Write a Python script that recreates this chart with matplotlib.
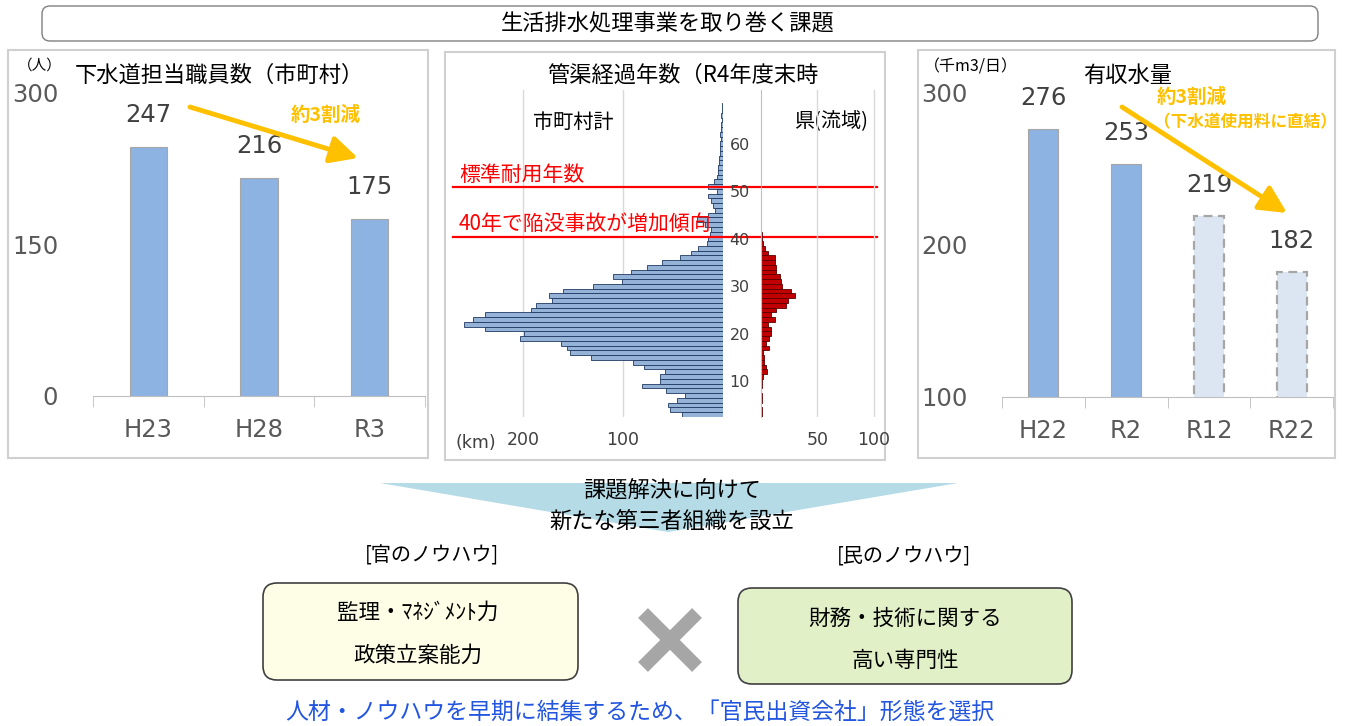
import matplotlib
matplotlib.use("Agg")
import matplotlib.pyplot as plt
import matplotlib.patches as mpatches
import matplotlib.transforms as mtransforms
import numpy as np

plt.rcParams['font.family'] = ['DejaVu Sans', 'Noto Sans CJK JP']
JP = ['Noto Sans CJK JP', 'DejaVu Sans']

W, H = 1345, 726

# ---- data ----
staff_years = ['H23', 'H28', 'R3']
staff_counts = [247, 216, 175]

water_years = ['H22', 'R2', 'R12', 'R22']
water_volume = [276, 253, 219, 182]
water_forecast = [False, False, True, True]

pipe_ages = list(range(3, 69))
pipe_muni_km = [41, 53, 55, 46, 38, 57, 81, 63, 63, 58,
                79, 90, 132, 153, 156, 162, 203, 199, 238, 259,
                250, 238, 192, 187, 171, 174, 160, 130, 101, 110,
                92, 76, 61, 43, 32, 25, 16, 15, 13, 12,
                18, 26, 15, 8, 10, 12, 15, 6, 15, 9,
                6, 5, 5, 4, 4, 3, 3, 3, 2, 3,
                2, 2, 1, 2, 1, 1]
pipe_pref_km = [0.8, 0.8, 0, 0.8, 0.8, 0, 0.8, 0.8, 1.5, 5,
                4, 3, 3, 2, 7, 4, 7, 9, 9, 6,
                12, 9, 13, 22, 24, 30, 27, 19, 18, 17,
                13, 13, 12, 12, 6, 3.5, 2, 1, 1, 0,
                0, 0, 0, 0, 0, 0, 0, 0, 0, 0,
                0, 0, 0, 0, 0, 0, 0, 0, 0, 0,
                0, 0, 0, 0, 0, 0]

BAR = '#8db3e2'
GOLD = '#FFC000'
TICK = '#595959'

fig = plt.figure(figsize=(W / 100, H / 100), dpi=100)


def px_axes(l, t, r, b, z=2):
    ax = fig.add_axes([l / W, 1 - b / H, (r - l) / W, (b - t) / H])
    ax.set_facecolor('none')
    ax.set_zorder(z)
    return ax


# background layer in pixel coordinates
bg = px_axes(0, 0, W, H, z=0)
bg.set_xlim(0, W)
bg.set_ylim(H, 0)
bg.axis('off')

# front layer for arrows
fg = px_axes(0, 0, W, H, z=10)
fg.set_xlim(0, W)
fg.set_ylim(H, 0)
fg.axis('off')

# title box
bg.add_patch(mpatches.FancyBboxPatch((42, 6), 1276, 35, boxstyle='round,pad=0,rounding_size=8',
                                     fc='white', ec='#808080', lw=1))
bg.text(668, 24, '生活排水処理事業を取り巻く課題', ha='center', va='center', fontsize=16, family=JP)

# panel frames
for x0, y0, w, h in [(8, 50, 420, 408), (445, 52, 440, 408), (918, 50, 417, 408)]:
    bg.add_patch(mpatches.Rectangle((x0, y0), w, h, fc='white', ec='#d0d0d0', lw=1.5))

arrow_style = dict(arrowstyle='-|>,head_length=1.1,head_width=0.55', color=GOLD,
                   lw=3.5, mutation_scale=15, shrinkA=0, shrinkB=0)

# ---- left: staff ----
axL = px_axes(93, 93, 425, 396)
xs = np.arange(len(staff_years))
axL.bar(xs, staff_counts, width=0.34, color=BAR, edgecolor='#a6a6a6', lw=0.8)
axL.set_xlim(-0.5, 2.5)
axL.set_ylim(0, 300)
for s in ['top', 'right', 'left']:
    axL.spines[s].set_visible(False)
axL.spines['bottom'].set_color('#bfbfbf')
axL.set_xticks(xs, staff_years)
axL.set_xticks([-0.5, 0.5, 1.5, 2.5], minor=True)
axL.tick_params(axis='x', which='major', length=0, pad=16, labelsize=17.5, labelcolor=TICK)
axL.tick_params(axis='x', which='minor', length=8, color='#bfbfbf')
axL.set_yticks([0, 150, 300])
axL.tick_params(axis='y', length=0, pad=25, labelsize=17.5, labelcolor=TICK)
for xi, v in zip(xs, staff_counts):
    axL.annotate(f'{v}', (xi, v), xytext=(0, 23), textcoords='offset points',
                 ha='center', va='center', fontsize=17.5, color='#404040')
bg.text(75, 75, '下水道担当職員数（市町村）', ha='left', va='center', fontsize=16, family=JP)
bg.text(40, 66, '（人）', ha='center', va='center', fontsize=10.5, family=JP)
fg.annotate('', xy=(358, 158), xytext=(190, 107), arrowprops=arrow_style)
fg.text(326, 115, '約3割減', ha='center', va='center', fontsize=14, fontweight='bold',
        color=GOLD, family=JP)

# ---- middle: pipe age histogram ----
ylo, yhi = 2.5, 71.3
axM1 = px_axes(455, 90, 723, 417)
axM1.barh(pipe_ages, pipe_muni_km, height=1.0, color='#95b3d7', edgecolor='#203864', lw=0.6)
axM1.set_xlim(268, 0)
axM1.set_ylim(ylo, yhi)
for s in axM1.spines.values():
    s.set_visible(False)
axM1.set_xticks([200, 100])
axM1.grid(axis='x', color='#d9d9d9', lw=1)
axM1.set_axisbelow(True)
axM1.set_yticks([])
axM1.tick_params(axis='x', length=0, pad=10, labelsize=12.5, labelcolor='#404040')

axM2 = px_axes(761, 90, 885, 417)
pref_edges = ['#5a0000' if v > 0 else 'none' for v in pipe_pref_km]
axM2.barh(pipe_ages, pipe_pref_km, height=1.0, color='#c00000', edgecolor=pref_edges, lw=0.6)
axM2.set_xlim(0, 110)
axM2.set_ylim(ylo, yhi)
for s in ['top', 'right', 'bottom']:
    axM2.spines[s].set_visible(False)
axM2.spines['left'].set_color('#bfbfbf')
axM2.set_xticks([50, 100])
axM2.grid(axis='x', color='#d9d9d9', lw=1)
axM2.set_axisbelow(True)
axM2.tick_params(axis='x', length=0, pad=10, labelsize=12.5, labelcolor='#404040')
axM2.set_yticks([10, 20, 30, 40, 50, 60])
axM2.tick_params(axis='y', length=0, pad=8, labelsize=11.5, labelcolor='#404040')

bg.text(683, 75, '管渠経過年数（R4年度末時', ha='center', va='center', fontsize=16, family=JP)
bg.text(573, 122, '市町村計', ha='center', va='center', fontsize=14.5, family=JP)
bg.text(831, 122, '県(流域)', ha='center', va='center', fontsize=14.5, family=JP)
bg.text(476, 443, '(km)', ha='center', va='center', fontsize=12.5, color='#404040')

blend = mtransforms.blended_transform_factory(bg.transData, axM1.transData)
for yline, label in [(50.8, '標準耐用年数'), (40.4, '40年で陥没事故が増加傾向')]:
    axM1.plot([453, 877], [yline, yline], transform=blend, color='#ff0000', lw=1.6,
              clip_on=False, zorder=5)
    axM1.text(459, yline + 0.3, label, transform=blend, ha='left', va='bottom',
              fontsize=15, color='#ff0000', family=JP, zorder=5)

# ---- right: water volume ----
axR = px_axes(1002, 92, 1333, 397)
xr = np.arange(len(water_years))
bars = axR.bar(xr, water_volume, bottom=0, width=0.36,
               color=['#dce6f2' if f else BAR for f in water_forecast],
               edgecolor='#a6a6a6', lw=0.8)
for b, f in zip(bars, water_forecast):
    if f:
        b.set_linestyle((0, (4, 2.5)))
        b.set_linewidth(1.6)
axR.set_xlim(-0.5, 3.5)
axR.set_ylim(100, 300)
for s in ['top', 'right', 'left']:
    axR.spines[s].set_visible(False)
axR.spines['bottom'].set_color('#bfbfbf')
axR.set_xticks(xr, water_years)
axR.set_xticks([-0.5, 0.5, 1.5, 2.5, 3.5], minor=True)
axR.tick_params(axis='x', which='major', length=0, pad=16, labelsize=17.5, labelcolor=TICK)
axR.tick_params(axis='x', which='minor', length=8, color='#bfbfbf')
axR.set_yticks([100, 200, 300])
axR.tick_params(axis='y', length=0, pad=25, labelsize=17.5, labelcolor=TICK)
for xi, v in zip(xr, water_volume):
    axR.annotate(f'{v}', (xi, v), xytext=(0, 22), textcoords='offset points',
                 ha='center', va='center', fontsize=17.5, color='#404040')
bg.text(1128, 75, '有収水量', ha='center', va='center', fontsize=16, family=JP)
bg.text(971, 67, '（千m3/日）', ha='center', va='center', fontsize=11.5, family=JP)
fg.annotate('', xy=(1287, 213), xytext=(1122, 107), arrowprops=arrow_style)
fg.text(1192, 97, '約3割減', ha='center', va='center', fontsize=14, fontweight='bold',
        color=GOLD, family=JP)
fg.text(1245, 122, '（下水道使用料に直結）', ha='center', va='center', fontsize=12,
        fontweight='bold', color=GOLD, family=JP)

# ---- bottom section ----
bg.add_patch(mpatches.Polygon([(380, 483), (958, 483), (668, 532)], closed=True,
                              fc='#b4dbe6', ec='none'))
bg.text(672, 490, '課題解決に向けて', ha='center', va='center', fontsize=16, family=JP)
bg.text(672, 521, '新たな第三者組織を設立', ha='center', va='center', fontsize=16, family=JP)
bg.text(432, 556, '[官のノウハウ]', ha='center', va='center', fontsize=14.5, family=JP)
bg.text(904, 556, '[民のノウハウ]', ha='center', va='center', fontsize=14.5, family=JP)

bg.add_patch(mpatches.FancyBboxPatch((263, 583), 315, 97, boxstyle='round,pad=0,rounding_size=14',
                                     fc='#fefee6', ec='#404040', lw=1.2))
bg.text(418, 613, '監理・ﾏﾈｼﾞﾒﾝﾄ力', ha='center', va='center', fontsize=15.5, family=JP)
bg.text(418, 656, '政策立案能力', ha='center', va='center', fontsize=15.5, family=JP)

bg.add_patch(mpatches.FancyBboxPatch((738, 588), 334, 96, boxstyle='round,pad=0,rounding_size=14',
                                     fc='#e2f0c8', ec='#404040', lw=1.2))
bg.text(905, 619, '財務・技術に関する', ha='center', va='center', fontsize=15.5, family=JP)
bg.text(905, 661, '高い専門性', ha='center', va='center', fontsize=15.5, family=JP)

bg.plot([643, 697], [613, 667], color='#a6a6a6', lw=10, solid_capstyle='butt')
bg.plot([697, 643], [613, 667], color='#a6a6a6', lw=10, solid_capstyle='butt')

bg.text(640, 712, '人材・ノウハウを早期に結集するため、「官民出資会社」形態を選択',
        ha='center', va='center', fontsize=16.5, color='#2255e0', family=JP)

fig.savefig('out.png', dpi=100)
